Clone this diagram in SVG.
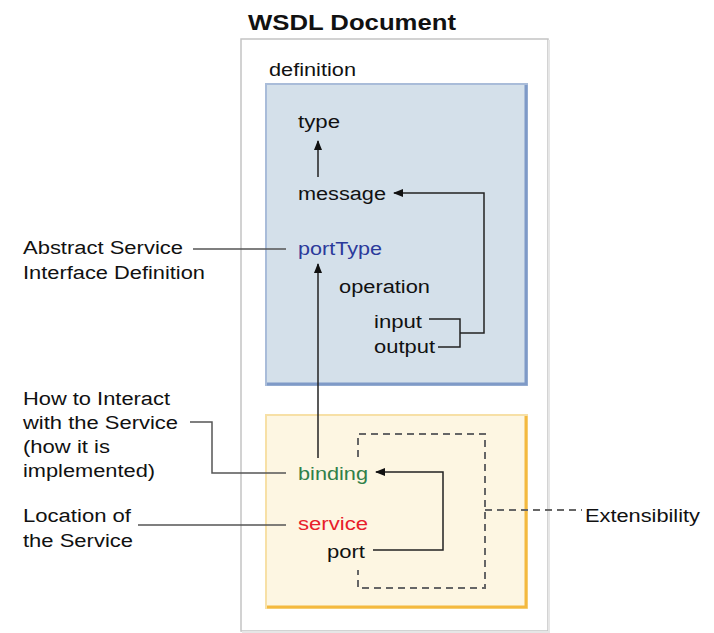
<svg xmlns="http://www.w3.org/2000/svg" width="714" height="633" viewBox="0 0 714 633">
<style>
text{font-family:"Liberation Sans",Arial,sans-serif;font-size:18px;fill:#111}
.title{font-weight:bold;font-size:22px}
.conn{fill:none;stroke:#222;stroke-width:1.5}
.lead{fill:none;stroke:#555;stroke-width:1.5}
.dash{fill:none;stroke:#666;stroke-width:2;stroke-dasharray:7,5}
</style>
<defs>
<marker id="ah" markerWidth="10" markerHeight="10" viewBox="0 0 10 10" refX="9" refY="5" orient="auto" markerUnits="userSpaceOnUse">
<path d="M0,1 L10,5 L0,9 Z" fill="#111"/>
</marker>
</defs>
<rect width="714" height="633" fill="#fff"/>
<g id="document">
<rect x="241" y="39" width="307" height="592" fill="#fff" stroke="#c4c4c4" stroke-width="1.5"/>
<path d="M549,40 V632 H242" fill="none" stroke="#e6e6e6" stroke-width="2"/>
<text class="title" x="248" y="30" textLength="208" lengthAdjust="spacingAndGlyphs">WSDL Document</text>
<text x="269" y="76" textLength="87" lengthAdjust="spacingAndGlyphs">definition</text>
</g>
<g id="abstract-box">
<rect x="266" y="84" width="261" height="301" fill="#d4e0ea" stroke="#a9bcd9" stroke-width="2"/>
<path d="M526,85 V384 H267" fill="none" stroke="#7f9ac7" stroke-width="3"/>
</g>
<g id="concrete-box">
<rect x="266" y="415" width="261" height="193" fill="#fdf6e2" stroke="#f7e0a6" stroke-width="2"/>
<path d="M526,416 V607 H267" fill="none" stroke="#f4b93f" stroke-width="3"/>
</g>
<g id="type"><text x="298" y="128" textLength="42" lengthAdjust="spacingAndGlyphs">type</text></g>
<g id="message"><text x="298" y="200" textLength="88" lengthAdjust="spacingAndGlyphs">message</text></g>
<g id="portType"><text x="298" y="255" textLength="84" lengthAdjust="spacingAndGlyphs" style="fill:#2b3a9b">portType</text></g>
<g id="operation"><text x="339" y="293" textLength="91" lengthAdjust="spacingAndGlyphs">operation</text></g>
<g id="input"><text x="374" y="328" textLength="48" lengthAdjust="spacingAndGlyphs">input</text></g>
<g id="output"><text x="374" y="353" textLength="61" lengthAdjust="spacingAndGlyphs">output</text></g>
<g id="binding"><text x="298" y="480" textLength="70" lengthAdjust="spacingAndGlyphs" style="fill:#2f8049">binding</text></g>
<g id="service"><text x="298" y="530" textLength="70" lengthAdjust="spacingAndGlyphs" style="fill:#e8202a">service</text></g>
<g id="port"><text x="327" y="558" textLength="38" lengthAdjust="spacingAndGlyphs">port</text></g>
<g id="label-abstract">
<text x="23" y="254" textLength="160" lengthAdjust="spacingAndGlyphs">Abstract Service</text>
<text x="23" y="279" textLength="182" lengthAdjust="spacingAndGlyphs">Interface Definition</text>
</g>
<g id="label-interact">
<text x="23" y="405" textLength="147" lengthAdjust="spacingAndGlyphs">How to Interact</text>
<text x="23" y="429" textLength="155" lengthAdjust="spacingAndGlyphs">with the Service</text>
<text x="23" y="453" textLength="87" lengthAdjust="spacingAndGlyphs">(how it is</text>
<text x="23" y="477" textLength="132" lengthAdjust="spacingAndGlyphs">implemented)</text>
</g>
<g id="label-location">
<text x="23" y="522" textLength="108" lengthAdjust="spacingAndGlyphs">Location of</text>
<text x="23" y="547" textLength="110" lengthAdjust="spacingAndGlyphs">the Service</text>
</g>
<g id="label-extensibility"><text x="585" y="522" textLength="115" lengthAdjust="spacingAndGlyphs">Extensibility</text></g>
<g id="connectors">
<path class="conn" d="M318,177 V141" marker-end="url(#ah)"/>
<path class="conn" d="M318,458 V264" marker-end="url(#ah)"/>
<path class="conn" d="M460,333 H484 V193 H394" marker-end="url(#ah)"/>
<path class="conn" d="M429,319 H460 V347 H438"/>
<path class="conn" d="M373,550 H443 V472 H376" marker-end="url(#ah)"/>
<path class="lead" d="M193,249 H286"/>
<path class="lead" d="M190,422 H212 V473 H286"/>
<path class="lead" d="M138,525 H286"/>
<path class="dash" d="M358,457 V434 H485 V588 H358 V570"/>
<path class="dash" d="M485,510 H582"/>
</g>
</svg>
